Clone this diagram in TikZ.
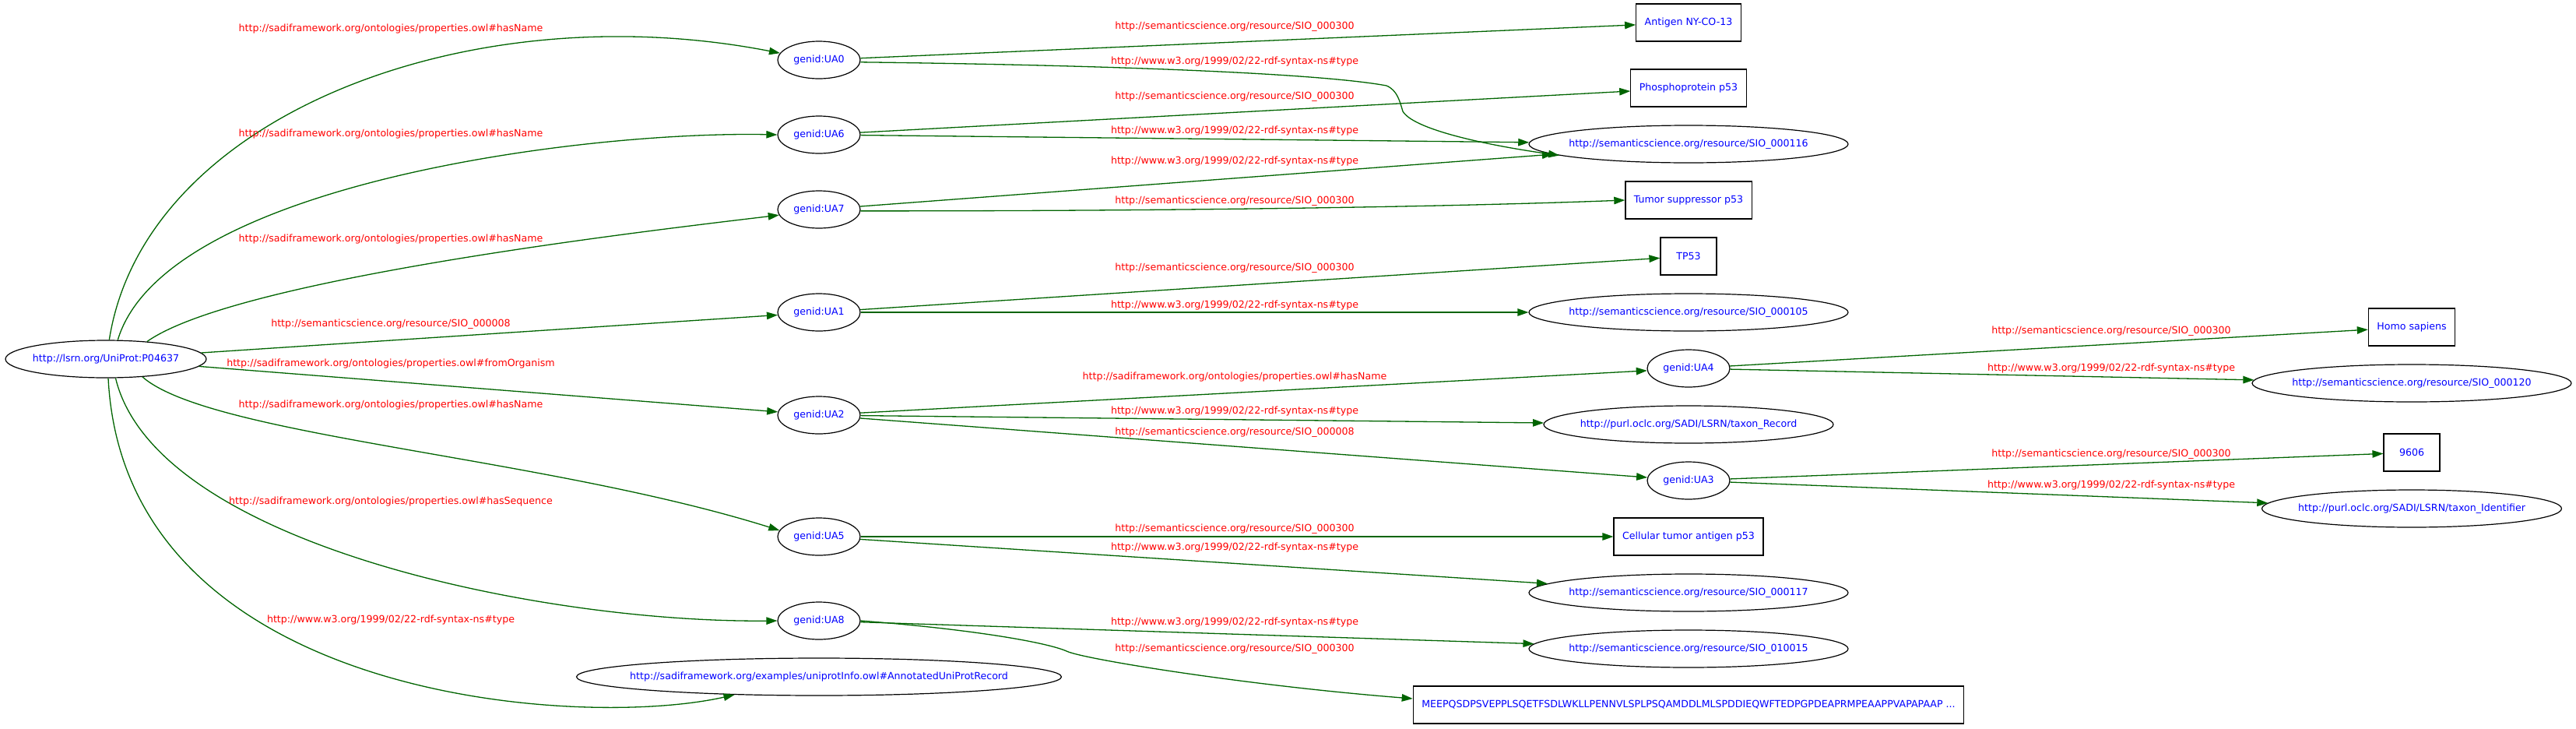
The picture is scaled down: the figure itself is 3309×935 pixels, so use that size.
\documentclass[tikz,border=0pt]{standalone}
\usepackage{fontspec}
\setmainfont{DejaVu Sans}
\usetikzlibrary{shapes.geometric,arrows.meta}
\definecolor{edgegreen}{HTML}{006400}
\definecolor{nodeblue}{HTML}{0000FF}
\definecolor{labred}{HTML}{FF0000}
\begin{document}
\begin{tikzpicture}[x=1pt,y=-1pt,
  every node/.style={font=\fontsize{12.6}{15}\selectfont},
  res/.style={ellipse, draw, line width=1.2pt, minimum height=48pt, inner xsep=-25pt, inner ysep=0pt, text=nodeblue},
  lit/.style={rectangle, draw, line width=1.2pt, minimum width=72pt, minimum height=48pt, inner xsep=11pt, inner ysep=0pt, text=nodeblue},
  elab/.style={text=labred, inner sep=0pt},
  link/.style={draw=edgegreen, line width=1.3pt, -{Triangle[length=14pt,width=9.5pt]}}
]
\useasboundingbox (0,0) rectangle (3309,935);

% ---------- nodes ----------
\node[res, minimum width=258pt] (root) at (136,461) {http://lsrn.org/UniProt:P04637};
\node[res, minimum width=106pt] (UA0) at (1052,77) {genid:UA0};
\node[res, minimum width=106pt] (UA6) at (1052,173) {genid:UA6};
\node[res, minimum width=106pt] (UA7) at (1052,269) {genid:UA7};
\node[res, minimum width=106pt] (UA1) at (1052,401) {genid:UA1};
\node[res, minimum width=106pt] (UA2) at (1052,533) {genid:UA2};
\node[res, minimum width=106pt] (UA5) at (1052,689) {genid:UA5};
\node[res, minimum width=106pt] (UA8) at (1052,797) {genid:UA8};
\node[res, minimum width=623pt] (ann) at (1052,869) {http://sadiframework.org/examples/uniprotInfo.owl\#AnnotatedUniProtRecord};

\node[lit] (antigen) at (2169,29) {Antigen NY-CO-13};
\node[lit] (phospho) at (2169,113) {Phosphoprotein p53};
\node[res, minimum width=410pt] (s116) at (2169,185) {http://semanticscience.org/resource/SIO\_000116};
\node[lit] (tumor) at (2169,257) {Tumor suppressor p53};
\node[lit] (tp53) at (2169,329) {TP53};
\node[res, minimum width=410pt] (s105) at (2169,401) {http://semanticscience.org/resource/SIO\_000105};
\node[res, minimum width=106pt] (UA4) at (2169,473) {genid:UA4};
\node[res, minimum width=372pt] (taxrec) at (2169,545) {http://purl.oclc.org/SADI/LSRN/taxon\_Record};
\node[res, minimum width=106pt] (UA3) at (2169,617) {genid:UA3};
\node[lit] (cell) at (2169,689) {Cellular tumor antigen p53};
\node[res, minimum width=410pt] (s117) at (2169,761) {http://semanticscience.org/resource/SIO\_000117};
\node[res, minimum width=410pt] (s10015) at (2169,833) {http://semanticscience.org/resource/SIO\_010015};
\node[lit] (seq) at (2169,905) {MEEPQSDPSVEPPLSQETFSDLWKLLPENNVLSPLPSQAMDDLMLSPDDIEQWFTEDPGPDEAPRMPEAAPPVAPAPAAP ...};

\node[lit] (homo) at (3098,420) {Homo sapiens};
\node[res, minimum width=410pt] (s120) at (3098,492) {http://semanticscience.org/resource/SIO\_000120};
\node[lit] (n9606) at (3098,581) {9606};
\node[res, minimum width=385pt] (taxid) at (3098,653) {http://purl.oclc.org/SADI/LSRN/taxon\_Identifier};

% ---------- edges from root ----------
\draw[link] (root.80) .. controls (185,150) and (600,-10) .. (UA0.170);
\draw[link] (root.58) .. controls (211,237) and (748,168) .. (UA6.west);
\draw[link] (root.23) .. controls (300,360) and (800,300) .. (UA7.188);
\draw[link] (root) -- (UA1);
\draw[link] (root) -- (UA2);
\draw[link] (root.-26) .. controls (270,560) and (698,586) .. (UA5.171);
\draw[link] (root.-63) .. controls (200,700) and (700,800) .. (UA8.west);
\draw[link] (root.-83) .. controls (160,900) and (745,937) .. (ann.192);

% ---------- edges column 1 -> 2 ----------
\draw[link] (UA0) -- (antigen);
\draw[link] (UA0.-3) .. controls (1450,84) and (1700,95) .. (1781,110)
  .. controls (1795,116) and (1798,130) .. (1802,143)
  .. controls (1815,165) and (1900,185) .. (s116.185);
\draw[link] (UA6) -- (phospho);
\draw[link] (UA6) -- (s116);
\draw[link] (UA7) -- (s116);
\draw[link] (UA7.-2) .. controls (1500,271) and (1850,266) .. (tumor.west);
\draw[link] (UA1) -- (tp53);
\draw[link] (UA1) -- (s105);
\draw[link] (UA2) -- (UA4);
\draw[link] (UA2) -- (taxrec);
\draw[link] (UA2) -- (UA3);
\draw[link] (UA5) -- (cell);
\draw[link] (UA5) -- (s117);
\draw[link] (UA8) -- (s10015);
\draw[link] (UA8.east) .. controls (1250,808) and (1345,825) .. (1370,836)
  .. controls (1390,846) and (1600,880) .. ([yshift=8pt]seq.west);

% ---------- edges column 2 -> 3 ----------
\draw[link] (UA4) -- (homo);
\draw[link] (UA4) -- (s120);
\draw[link] (UA3) -- (n9606);
\draw[link] (UA3) -- (taxid);

% ---------- edge labels ----------
\node[elab] (l1) at (502,37) {http://sadiframework.org/ontologies/properties.owl\#hasName};
\node[elab] (l2) at (502,172) {http://sadiframework.org/ontologies/properties.owl\#hasName};
\node[elab] (l3) at (502,307) {http://sadiframework.org/ontologies/properties.owl\#hasName};
\node[elab] (l4) at (502,416) {http://semanticscience.org/resource/SIO\_000008};
\node[elab] (l5) at (502,467) {http://sadiframework.org/ontologies/properties.owl\#fromOrganism};
\node[elab] (l6) at (502,520) {http://sadiframework.org/ontologies/properties.owl\#hasName};
\node[elab] (l7) at (502,644) {http://sadiframework.org/ontologies/properties.owl\#hasSequence};
\node[elab] (l8) at (502,796) {http://www.w3.org/1999/02/22-rdf-syntax-ns\#type};

\node[elab] (m1) at (1586,34) {http://semanticscience.org/resource/SIO\_000300};
\node[elab] (m2) at (1586,79) {http://www.w3.org/1999/02/22-rdf-syntax-ns\#type};
\node[elab] (m3) at (1586,124) {http://semanticscience.org/resource/SIO\_000300};
\node[elab] (m4) at (1586,168) {http://www.w3.org/1999/02/22-rdf-syntax-ns\#type};
\node[elab] (m5) at (1586,207) {http://www.w3.org/1999/02/22-rdf-syntax-ns\#type};
\node[elab] (m6) at (1586,258) {http://semanticscience.org/resource/SIO\_000300};
\node[elab] (m7) at (1586,344) {http://semanticscience.org/resource/SIO\_000300};
\node[elab] (m8) at (1586,392) {http://www.w3.org/1999/02/22-rdf-syntax-ns\#type};
\node[elab] (m9) at (1586,484) {http://sadiframework.org/ontologies/properties.owl\#hasName};
\node[elab] (m10) at (1586,528) {http://www.w3.org/1999/02/22-rdf-syntax-ns\#type};
\node[elab] (m11) at (1586,555) {http://semanticscience.org/resource/SIO\_000008};
\node[elab] (m12) at (1586,679) {http://semanticscience.org/resource/SIO\_000300};
\node[elab] (m13) at (1586,703) {http://www.w3.org/1999/02/22-rdf-syntax-ns\#type};
\node[elab] (m14) at (1586,799) {http://www.w3.org/1999/02/22-rdf-syntax-ns\#type};
\node[elab] (m15) at (1586,833) {http://semanticscience.org/resource/SIO\_000300};

\node[elab] (r1) at (2712,425) {http://semanticscience.org/resource/SIO\_000300};
\node[elab] (r2) at (2712,473) {http://www.w3.org/1999/02/22-rdf-syntax-ns\#type};
\node[elab] (r3) at (2712,583) {http://semanticscience.org/resource/SIO\_000300};
\node[elab] (r4) at (2712,623) {http://www.w3.org/1999/02/22-rdf-syntax-ns\#type};
\end{tikzpicture}
\end{document}
